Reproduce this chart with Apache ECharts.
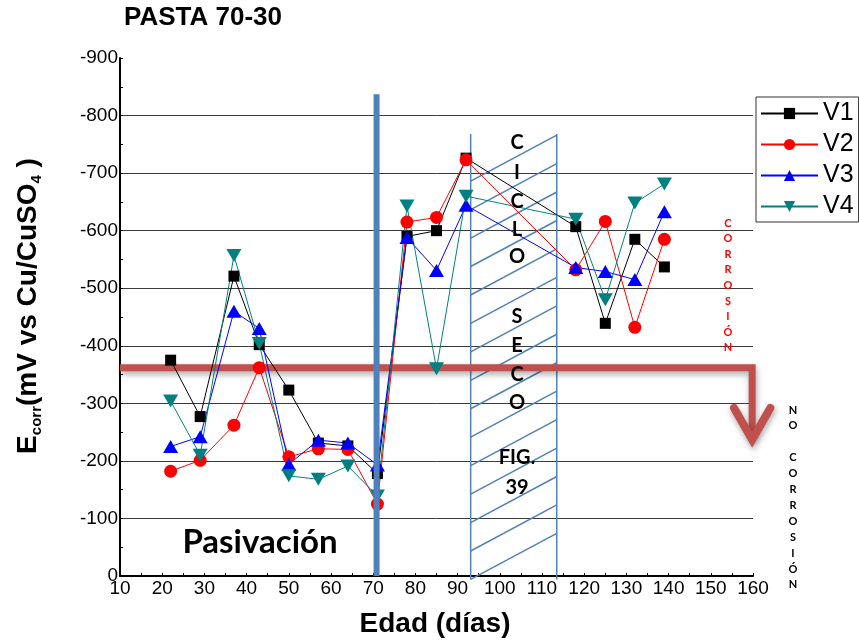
<!DOCTYPE html>
<html><head><meta charset="utf-8">
<script src="https://cdn.jsdelivr.net/npm/echarts@6/dist/echarts.min.js"></script>
<style>html,body{margin:0;padding:0;background:#fff}#c{width:859px;height:642px}</style>
</head><body><div id="c"></div>
<script>
// ---- data ----
const days = [22, 29, 37, 43, 50, 57, 64, 71, 78, 85, 92, 118, 125, 132, 139];
const v1 = [-375, -277, -521, -402, -323, -231, -226, -178, -590, -600, -726, -607, -439, -585, -537];
const v2 = [-182, -201, -262, -362, -207, -221, -220, -125, -615, -623, -723, -532, -616, -432, -585];
const v3 = [-225, -242, -460, -430, -194, -236, -231, -193, -588, -531, -644, -536, -529, -515, -633];
const v4 = [-304, -210, -557, -404, -174, -168, -191, -139, -643, -360, -660, -620, -480, -648, -681];
const seriesNames = ['V1', 'V2', 'V3', 'V4'];
const xTicks = {min: 10, max: 160, interval: 10};
const yTicks = {min: -900, max: 0, interval: 100};

// annotation anchors in data units
const passDay = 70.8, passTop = -837;
const hatchX = [93.1, 113.5], hatchTop = -768, hatchBottom = 6;
const hatchLeftStart = -686, hatchLeftEnd = 6, hatchRise = 80, hatchCount = 15;
const arrowY = -362, arrowX0 = 10, arrowX1 = 159.8, arrowTipY = -237, arrowArmY = -292, arrowArmDx = 4.3;

const FONT = '"Liberation Sans", Arial, sans-serif';
const CAL = 'Lato, "Open Sans", sans-serif';

const chart = echarts.init(document.getElementById('c'), null, {renderer: 'canvas'});

function mk(name, vals, color, symbol, size, rot) {
  return {
    name, type: 'line', data: days.map((d, i) => [d, vals[i]]),
    symbol, symbolSize: size, symbolRotate: rot || 0, showSymbol: true,
    lineStyle: {color, width: 1}, itemStyle: {color}, z: 2, animation: false
  };
}

chart.setOption({
  animation: false,
  grid: {left: 120, right: 106, top: 58, bottom: 66, containLabel: false},
  xAxis: {
    type: 'value', min: xTicks.min, max: xTicks.max, interval: xTicks.interval,
    axisLine: {show: true, lineStyle: {color: '#000', width: 2}},
    axisTick: {show: true, inside: true, length: 3, lineStyle: {color: '#000'}},
    minorTick: {show: true, splitNumber: 2, length: 3, lineStyle: {color: '#000'}},
    axisLabel: {fontSize: 19, color: '#000', margin: 3, fontFamily: FONT},
    splitLine: {show: false}
  },
  yAxis: {
    type: 'value', min: yTicks.min, max: yTicks.max, interval: yTicks.interval, inverse: true,
    axisLine: {show: true, onZero: false, lineStyle: {color: '#000', width: 2}},
    axisTick: {show: true, inside: true, length: 3, lineStyle: {color: '#000'}},
    minorTick: {show: true, splitNumber: 2, length: 3, lineStyle: {color: '#000'}},
    axisLabel: {fontSize: 19, color: '#000', margin: 2, fontFamily: FONT},
    splitLine: {show: true, showMinLine: false, lineStyle: {color: '#3a3a3a', width: 1}}
  },
  legend: {
    orient: 'vertical', left: 756, top: 97, padding: [4, 5, 3, 4],
    itemWidth: 57, itemHeight: 14, itemGap: 6,
    borderColor: '#333', borderWidth: 1, backgroundColor: '#fff',
    textStyle: {fontSize: 25, fontFamily: FONT, color: '#000', lineHeight: 25},
    data: seriesNames
  },
  series: [
    mk(seriesNames[0], v1, '#000000', 'rect', 11),
    mk(seriesNames[1], v2, '#ff0000', 'circle', 13),
    mk(seriesNames[2], v3, '#0000ff', 'triangle', [15, 13]),
    mk(seriesNames[3], v4, '#008080', 'triangle', [15, 13], 180)
  ]
});

const P = (x, y) => chart.convertToPixel({gridIndex: 0}, [x, y]);

const g = [];
// hatched box
const tl = P(hatchX[0], hatchTop), bl = P(hatchX[0], hatchBottom);
const tr = P(hatchX[1], hatchTop), br = P(hatchX[1], hatchBottom);
const hatchStyle = {stroke: '#4F81BD', lineWidth: 1.5, fill: null};
g.push({type: 'line', z: 1, shape: {x1: tl[0], y1: tl[1], x2: bl[0], y2: bl[1]}, style: hatchStyle});
g.push({type: 'line', z: 1, shape: {x1: tr[0], y1: tr[1], x2: br[0], y2: br[1]}, style: hatchStyle});
for (let k = 0; k < hatchCount; k++) {
  const yl = hatchLeftStart + (hatchLeftEnd - hatchLeftStart) * k / (hatchCount - 1);
  const a = P(hatchX[0], yl), b = P(hatchX[1], yl - hatchRise);
  g.push({type: 'line', z: 1, shape: {x1: a[0], y1: a[1], x2: b[0], y2: b[1]}, style: hatchStyle});
}
// red bent arrow
const a0 = P(arrowX0, arrowY), a1 = P(arrowX1, arrowY), a2 = P(arrowX1, arrowTipY - 6);
const tip = P(arrowX1, arrowTipY), armL = P(arrowX1 - arrowArmDx, arrowArmY), armR = P(arrowX1 + arrowArmDx, arrowArmY);
const shadow = {shadowBlur: 6, shadowColor: 'rgba(0,0,0,0.35)', shadowOffsetX: 1, shadowOffsetY: 3};
g.push({type: 'polyline', z: 1, shape: {points: [a0, a1, a2]},
  style: Object.assign({stroke: '#C0504D', lineWidth: 7, fill: null, lineJoin: 'miter'}, shadow)});
g.push({type: 'polyline', z: 1, shape: {points: [armL, tip, armR]},
  style: Object.assign({stroke: '#C0504D', lineWidth: 8, fill: null, lineJoin: 'miter', lineCap: 'round'}, shadow)});
// thick blue vertical line
const b0 = P(passDay, passTop), b1 = P(passDay, 0);
g.push({type: 'line', z: 5, shape: {x1: b0[0], y1: b0[1], x2: b1[0], y2: b1[1]},
  style: {stroke: '#4F81BD', lineWidth: 6}});

// texts
g.push({type: 'text', z: 6, x: 124, y: 18, style: {text: 'PASTA 70-30', fontSize: 26, fontWeight: 'bold', fontFamily: FONT, fill: '#000', align: 'left', verticalAlign: 'middle'}});
g.push({type: 'text', z: 6, x: 435, y: 624, style: {text: 'Edad (días)', fontSize: 28, fontWeight: 'bold', fontFamily: FONT, fill: '#000', align: 'center', verticalAlign: 'middle'}});
g.push({type: 'text', z: 6, x: 28, y: 306, rotation: Math.PI / 2, style: {
  text: '{m|E}{s|corr}{m|(mV vs Cu/CuSO}{s|4}{m| )}', align: 'center', verticalAlign: 'middle', fill: '#000',
  rich: {
    m: {fontSize: 28, fontWeight: 'bold', fontFamily: FONT, lineHeight: 32, fill: '#000'},
    s: {fontSize: 15, fontWeight: 'bold', fontFamily: FONT, lineHeight: 4, verticalAlign: 'bottom', fill: '#000'}
  }}});
g.push({type: 'text', z: 6, x: 260, y: 542, style: {text: 'Pasivación', fontSize: 33, fontWeight: 'bold', fontFamily: CAL, fill: '#000', align: 'center', verticalAlign: 'middle'}});
const ciclo = [['C', 143], ['I', 173], ['C', 202], ['L', 230], ['O', 257], ['S', 317], ['E', 346], ['C', 375], ['O', 403], ['FIG.', 458], ['39', 488]];
ciclo.forEach(([t, y]) => g.push({type: 'text', z: 6, x: 517, y, style: {text: t, fontSize: 20, fontWeight: 'bold', fontFamily: CAL, fill: '#000', align: 'center', verticalAlign: 'middle'}}));
'CORROSIÓN'.split('').forEach((ch, i) => g.push({type: 'text', z: 6, x: 728, y: 223 + i * 15.6, style: {text: ch, fontSize: 11, fontWeight: 'bold', fontFamily: CAL, fill: '#ff0000', align: 'center', verticalAlign: 'middle'}}));
'NO CORROSIÓN'.split('').forEach((ch, i) => g.push({type: 'text', z: 6, x: 793, y: 410 + i * 15.9, style: {text: ch, fontSize: 11, fontWeight: 'bold', fontFamily: CAL, fill: '#000', align: 'center', verticalAlign: 'middle'}}));

chart.setOption({graphic: {elements: g}});
</script></body></html>
